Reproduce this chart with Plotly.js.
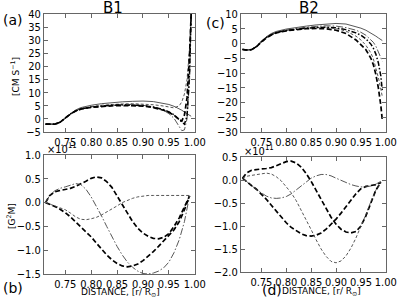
<!DOCTYPE html>
<html><head><meta charset="utf-8">
<script src="https://cdn.plot.ly/plotly-3.0.1.min.js"></script>
<style>html,body{margin:0;padding:0;background:#fff}#chart{width:399px;height:300px}</style>
</head><body><div id="chart"></div>
<script>
// ---- data ----
const xTop = [0.712,0.72,0.73,0.74,0.75,0.76,0.77,0.78,0.80,0.82,0.84,0.86,0.88,0.90,0.92,0.94,0.95,0.96,0.97,0.975,0.98,0.985,0.99,0.993];
// panel (a) B1 velocity [cm s^-1]
const a_solid    = [-2.0,-2.1,-2.0,-1.2,0.3,2.0,3.4,4.3,5.2,5.8,6.2,6.5,6.7,6.8,6.6,6.0,5.5,4.8,3.9,3.3,2.6,2.0,1.3,1.0];
const a_dash     = [-2.0,-2.1,-2.0,-1.3,0.2,1.9,3.1,3.9,4.7,5.2,5.5,5.7,5.8,5.7,5.4,4.9,4.5,4.2,5.0,6.5,9.5,15,27,40];
const a_dashdot  = [-2.0,-2.1,-2.0,-1.3,0.2,1.9,3.0,3.8,4.6,5.0,5.3,5.5,5.5,5.2,4.6,3.2,2.0,0.2,-3.0,-4.5,-4.2,0,15,40];
const a_thickDash= [-2.0,-2.1,-2.0,-1.3,0.2,1.9,3.0,3.7,4.4,4.8,5.0,5.1,5.1,4.9,4.3,3.3,2.5,1.4,-0.3,-0.8,1.5,8,25,40];
const a_thickDD  = [-2.0,-2.1,-2.0,-1.3,0.2,1.9,3.0,3.8,4.5,4.9,5.2,5.3,5.3,5.1,4.5,3.5,2.7,1.5,-0.3,-1.3,-2.0,1,18,40];
// panel (c) B2 velocity
const c_solid    = [-2.0,-2.2,-2.1,-1.0,0.8,2.3,3.4,4.1,4.9,5.5,5.9,6.3,6.6,6.8,6.6,5.8,5.2,4.5,3.6,3.1,2.5,1.9,1.3,1.0];
const c_dashdot  = [-2.0,-2.2,-2.1,-1.1,0.6,2.1,3.1,3.8,4.6,5.1,5.5,5.8,6.0,5.9,5.4,4.5,3.8,2.8,1.4,0.4,-0.9,-2.6,-4.8,-6.0];
const c_dash     = [-2.0,-2.2,-2.1,-1.1,0.6,2.0,3.0,3.7,4.4,4.9,5.2,5.4,5.4,5.1,4.2,2.5,1.2,-0.6,-3.2,-5.2,-8.0,-11.5,-15.5,-18.0];
const c_thickDash= [-2.0,-2.2,-2.1,-1.1,0.5,1.9,2.9,3.6,4.3,4.7,5.0,5.1,5.0,4.5,3.4,1.2,-0.3,-2.1,-5.0,-7.2,-10.5,-15.0,-21.0,-26.0];
const c_thickDD  = [-2.0,-2.2,-2.1,-1.1,0.6,2.0,3.0,3.7,4.4,4.9,5.2,5.4,5.5,5.3,4.7,3.6,2.8,1.6,-0.2,-1.6,-3.6,-6.5,-11.0,-16.0];

const xBot = [0.712,0.72,0.73,0.74,0.75,0.76,0.77,0.78,0.79,0.80,0.81,0.82,0.83,0.84,0.85,0.86,0.87,0.88,0.89,0.90,0.91,0.92,0.93,0.94,0.95,0.96,0.97,0.98,0.99];
// panel (b) [G^2 M] in units of 1e11
const b_thickA = [0.0,0.15,0.23,0.25,0.27,0.30,0.34,0.39,0.45,0.51,0.54,0.52,0.44,0.32,0.14,-0.05,-0.24,-0.40,-0.54,-0.64,-0.71,-0.75,-0.76,-0.73,-0.65,-0.50,-0.32,-0.10,0.14];
const b_thickB = [0.0,-0.03,-0.08,-0.14,-0.21,-0.30,-0.40,-0.50,-0.60,-0.72,-0.85,-0.98,-1.10,-1.20,-1.28,-1.33,-1.35,-1.33,-1.29,-1.22,-1.13,-1.03,-0.92,-0.81,-0.70,-0.57,-0.40,-0.15,0.14];
const b_dashdot= [0.0,0.15,0.25,0.30,0.33,0.37,0.40,0.38,0.28,0.12,-0.07,-0.28,-0.50,-0.72,-0.92,-1.10,-1.25,-1.36,-1.44,-1.49,-1.50,-1.48,-1.44,-1.37,-1.25,-1.05,-0.78,-0.40,0.14];
const b_dash   = [0.0,-0.03,-0.07,-0.11,-0.15,-0.22,-0.30,-0.35,-0.36,-0.34,-0.31,-0.26,-0.20,-0.14,-0.07,0.00,0.05,0.09,0.12,0.14,0.15,0.15,0.15,0.15,0.15,0.15,0.15,0.15,0.15];
// panel (d)
const d_thickA = [0.04,0.15,0.21,0.23,0.24,0.25,0.27,0.31,0.36,0.40,0.41,0.37,0.28,0.14,-0.03,-0.22,-0.42,-0.62,-0.81,-0.96,-1.07,-1.13,-1.15,-1.12,-1.00,-0.78,-0.50,-0.22,-0.05];
const d_thickB = [0.04,-0.04,-0.12,-0.20,-0.30,-0.42,-0.55,-0.68,-0.81,-0.93,-1.03,-1.11,-1.17,-1.21,-1.22,-1.20,-1.15,-1.07,-0.97,-0.85,-0.72,-0.58,-0.44,-0.30,-0.19,-0.14,-0.12,-0.10,-0.06];
const d_dash   = [0.04,0.08,0.10,0.12,0.14,0.15,0.13,0.07,-0.02,-0.14,-0.28,-0.45,-0.65,-0.86,-1.08,-1.30,-1.50,-1.66,-1.77,-1.80,-1.76,-1.65,-1.48,-1.26,-1.02,-0.75,-0.47,-0.22,-0.05];
const d_dashdot= [0.04,-0.04,-0.12,-0.21,-0.29,-0.35,-0.39,-0.40,-0.39,-0.36,-0.30,-0.22,-0.13,-0.04,0.04,0.09,0.12,0.12,0.09,0.04,-0.01,-0.06,-0.10,-0.13,-0.15,-0.15,-0.13,-0.09,-0.03];

const xTickVals = [0.75,0.80,0.85,0.90,0.95,1.00];
const xTickText = ['0.75','0.80','0.85','0.90','0.95','1.00'];
const yTickA = [-5,0,5,10,15,20,25,30,35,40];
const yTickC = [-30,-25,-20,-15,-10,-5,0,5,10];
const yTickB = [-1.5,-1.0,-0.5,0.0,0.5,1.0];
const yTickD = [-2.0,-1.5,-1.0,-0.5,0.0,0.5];

// ---- styles ----
const S = {
  solid:    {color:'#444', width:0.9, dash:'solid'},
  dash:     {color:'#444', width:0.9, dash:'3px,2px'},
  dashdot:  {color:'#444', width:0.9, dash:'7px,2px,1.5px,2px'},
  thickDash:{color:'#000', width:1.7, dash:'5px,2.5px'},
  thickDD:  {color:'#000', width:1.5, dash:'5px,2px,1.5px,2px'}
};
function tr(x,y,st,xa,ya){return {x:x,y:y,type:'scatter',mode:'lines',line:S[st],xaxis:xa,yaxis:ya,showlegend:false,hoverinfo:'skip'};}

const data = [
  tr(xTop,a_solid,'solid','x','y'), tr(xTop,a_dash,'dash','x','y'), tr(xTop,a_dashdot,'dashdot','x','y'),
  tr(xTop,a_thickDash,'thickDash','x','y'), tr(xTop,a_thickDD,'thickDD','x','y'),
  tr(xTop,c_solid,'solid','x2','y2'), tr(xTop,c_dashdot,'dashdot','x2','y2'), tr(xTop,c_dash,'dash','x2','y2'),
  tr(xTop,c_thickDash,'thickDash','x2','y2'), tr(xTop,c_thickDD,'thickDD','x2','y2'),
  tr(xBot,b_thickA,'thickDash','x3','y3'), tr(xBot,b_thickB,'thickDash','x3','y3'),
  tr(xBot,b_dashdot,'dashdot','x3','y3'), tr(xBot,b_dash,'dash','x3','y3'),
  tr(xBot,d_thickA,'thickDash','x4','y4'), tr(xBot,d_thickB,'thickDash','x4','y4'),
  tr(xBot,d_dash,'dash','x4','y4'), tr(xBot,d_dashdot,'dashdot','x4','y4')
];

const W=399,H=300;
const FONT='DejaVu Sans, sans-serif';
const TFONT='DejaVu Sans Condensed, DejaVu Sans, sans-serif';
const base = {showline:true, linecolor:'#666', linewidth:1, mirror:'ticks', ticks:'inside', ticklen:4,
  tickcolor:'#666', tickwidth:1, showgrid:false, zeroline:false, automargin:false,
  tickfont:{family:TFONT,size:11,color:'#000'}};
function xa(d,anchor){return Object.assign({},base,{domain:d,anchor:anchor,range:[0.709,1.0004],tickmode:'array',tickvals:xTickVals,ticktext:xTickText,tickangle:0});}
function ya(d,anchor,r,tv,fmt){return Object.assign({},base,{domain:d,anchor:anchor,range:r,tickmode:'array',tickvals:tv,tickformat:fmt,tickangle:0});}

const dxL=[44/W,195/W], dxR=[241/W,386/W];
const dyT=[1-132/H,1-14/H], dyBL=[1-274/H,1-155/H], dyBR=[1-272/H,1-157/H];

function ann(text,px,py,size,opts){return Object.assign({text:text,x:px/W,y:1-py/H,xref:'paper',yref:'paper',showarrow:false,
  font:{family:FONT,size:size,color:'#000'},xanchor:'center',yanchor:'middle'},opts||{});}

const layout = {
  width:W,height:H,margin:{l:0,r:0,t:0,b:0},paper_bgcolor:'#fff',plot_bgcolor:'#fff',showlegend:false,
  xaxis:xa(dxL,'y'), yaxis:ya(dyT,'x',[-5,40],yTickA,'d'),
  xaxis2:xa(dxR,'y2'), yaxis2:ya(dyT,'x2',[-30,10],yTickC,'d'),
  xaxis3:xa(dxL,'y3'), yaxis3:ya(dyBL,'x3',[-1.5,1.0],yTickB,'.1f'),
  xaxis4:xa(dxR,'y4'), yaxis4:ya(dyBR,'x4',[-2.0,0.5],yTickD,'.1f'),
  annotations:[
    ann('B1',113,8,15), ann('B2',309,8,15),
    ann('(a)',13,20,14), ann('(c)',215,23,14), ann('(b)',13,288,14), ann('(d)',272,290,14),
    ann('[CM S<sup>−1</sup>]',15,77,9,{textangle:-90}),
    ann('[G<sup>2</sup>M]',11,216,9,{textangle:-90}),
    ann('DISTANCE, [r/ R<sub>⊙</sub>]',120,292,9),
    ann('DISTANCE, [r/ R<sub>⊙</sub>]',321,291,9),
    ann('×10<sup>11</sup>',45,158,11,{xanchor:'left',yanchor:'bottom',font:{family:TFONT,size:11,color:'#000'}}),
    ann('×10<sup>11</sup>',242,160,11,{xanchor:'left',yanchor:'bottom',font:{family:TFONT,size:11,color:'#000'}})
  ]
};
Plotly.newPlot('chart',data,layout,{staticPlot:true,displayModeBar:false});
</script></body></html>
